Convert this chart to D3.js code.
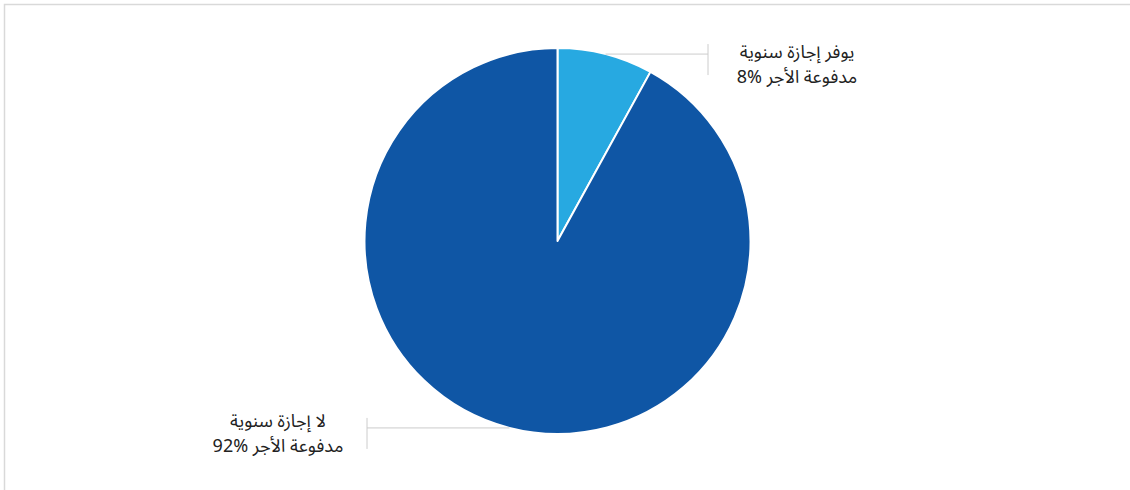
<!DOCTYPE html>
<html lang="ar">
<head>
<meta charset="utf-8">
<script src="https://cdn.jsdelivr.net/npm/d3@7/dist/d3.min.js"></script>
<style>
  html, body { margin: 0; padding: 0; background: #fff; }
  svg { display: block; }
</style>
</head>
<body>
<svg id="chart" width="1130" height="490"></svg>
<script>
const categories = ["يوفر إجازة سنوية مدفوعة الأجر", "لا إجازة سنوية مدفوعة الأجر"];
const labelLine1 = ["يوفر إجازة سنوية", "لا إجازة سنوية"];
const labelLine2 = ["مدفوعة الأجر", "مدفوعة الأجر"];
const values = [8, 92];
const colors = ["#27A9E1", "#0F56A5"];

const W = 1130, H = 490;
const cx = 557.5, cy = 241, R = 193;
const svg = d3.select("#chart");

// frame (top and left border)
svg.append("path")
  .attr("d", `M4.5,${H + 5} L4.5,4.5 L${W + 5},4.5`)
  .attr("fill", "none").attr("stroke", "#d9d9d9").attr("stroke-width", 1.5);

const pie = d3.pie().sort(null).value(d => d)(values);
const arc = d3.arc().innerRadius(0).outerRadius(R);
const g = svg.append("g").attr("transform", `translate(${cx},${cy})`);

g.selectAll("path.slice").data(pie).join("path")
  .attr("class", "slice")
  .attr("d", arc)
  .attr("fill", (d, i) => colors[i])
  .attr("stroke", "#fff").attr("stroke-width", 2).attr("stroke-linejoin", "round");

// leader lines and labels
const lineColor = "#cccccc";
const tickX = [708, 367];
const fontFam = "'Noto Sans Arabic', 'Noto Sans', 'DejaVu Sans', sans-serif";
pie.forEach((d, i) => {
  const a = (d.startAngle + d.endAngle) / 2;
  const px = cx + R * Math.sin(a);
  const py = cy - R * Math.cos(a);
  const tx = tickX[i];
  svg.append("line").attr("x1", px).attr("y1", py).attr("x2", tx).attr("y2", py)
    .attr("stroke", lineColor).attr("stroke-width", 1);
  svg.append("line").attr("x1", tx).attr("y1", py - 10).attr("x2", tx).attr("y2", py + 21)
    .attr("stroke", lineColor).attr("stroke-width", 1);
  const side = px > cx ? 1 : -1;
  const textX = tx + side * 89;
  const baseY = i === 0 ? py + 4 : py - 1;
  const pct = "\u2066" + d3.format(".0f")(values[i]) + "%\u2069";
  svg.append("text")
    .attr("x", textX).attr("y", baseY)
    .attr("text-anchor", "middle").attr("direction", "rtl")
    .attr("font-family", fontFam).attr("font-size", 18).attr("fill", "#222")
    .text(labelLine1[i]);
  svg.append("text")
    .attr("x", textX).attr("y", baseY + 25)
    .attr("text-anchor", "middle").attr("direction", "rtl")
    .attr("font-family", fontFam).attr("font-size", 18).attr("fill", "#222")
    .text(labelLine2[i] + " " + pct);
});
</script>
</body>
</html>
